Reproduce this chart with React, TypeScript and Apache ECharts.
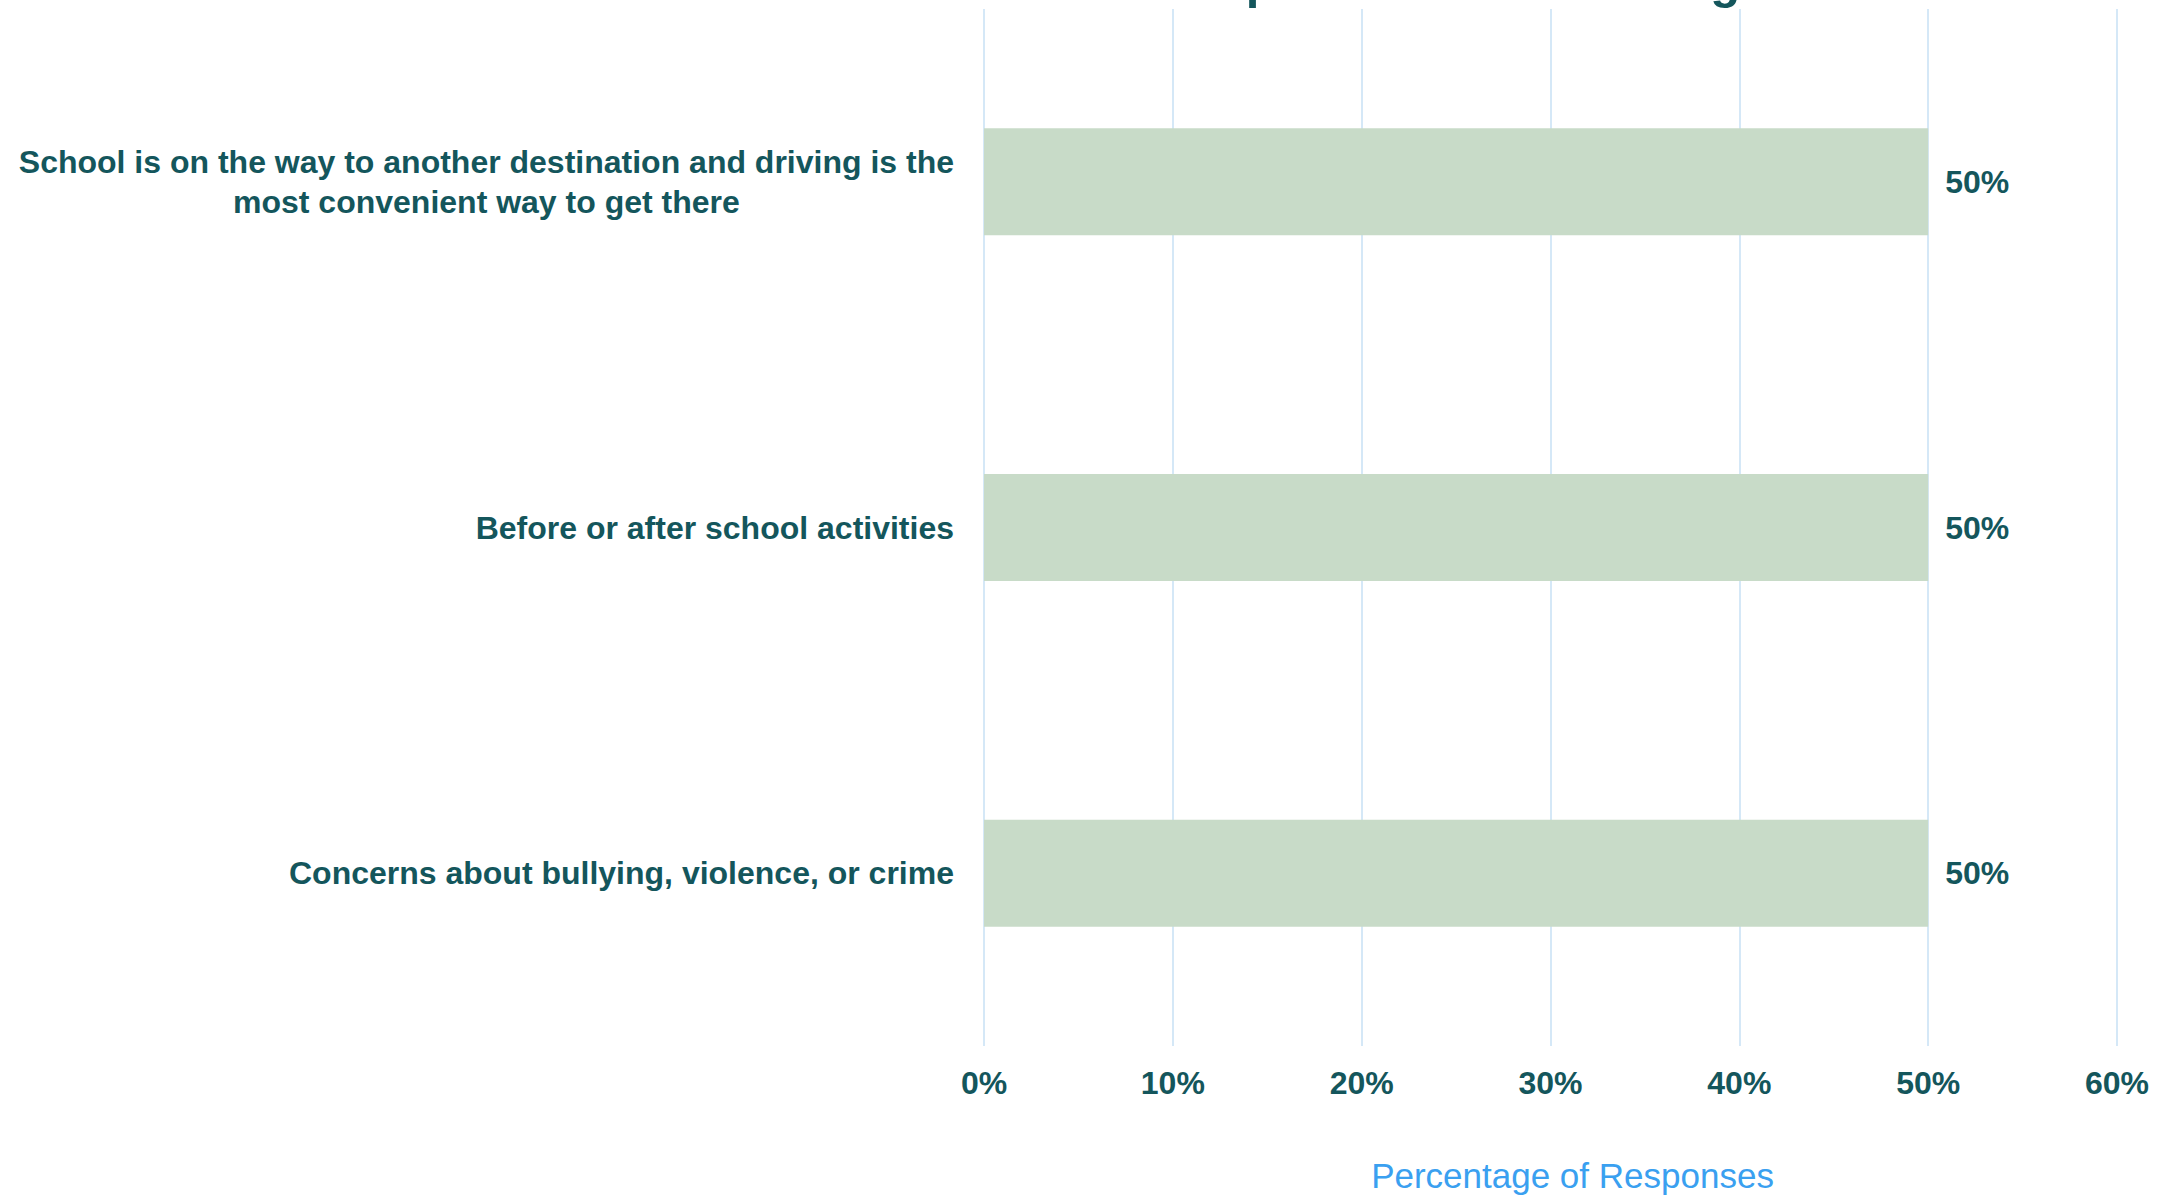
import React, { useEffect, useRef } from "react";
import * as echarts from "echarts";

const titleText = "Issues and Reasons Reported for Not Taking the Bus";
const categories = [
  "School is on the way to another destination and driving is the\nmost convenient way to get there",
  "Before or after school activities",
  "Concerns about bullying, violence, or crime",
];
const values = [50, 50, 50];
const xAxisName = "Percentage of Responses";

const TEAL = "#14565c";
const FONT = "'Liberation Sans', Arial, Helvetica, sans-serif";

export default function App() {
  const ref = useRef<HTMLDivElement>(null);
  useEffect(() => {
    document.body.style.margin = "0";
    const chart = echarts.init(ref.current!, null, { renderer: "svg" });
    chart.setOption({
      animation: false,
      backgroundColor: "#ffffff",
      title: {
        text: titleText,
        left: 1316,
        textAlign: "center",
        top: -44,
        padding: 0,
        textStyle: { fontFamily: FONT, fontSize: 49, fontWeight: "bold", color: TEAL },
      },
      grid: { left: 984, right: 41, top: 9, bottom: 150, containLabel: false },
      xAxis: {
        type: "value",
        min: 0,
        max: 60,
        interval: 10,
        axisLine: { show: false },
        axisTick: { show: false },
        splitLine: { show: true, lineStyle: { color: "#d5e8f7", width: 2 } },
        axisLabel: {
          formatter: "{value}%",
          margin: 21,
          fontFamily: FONT,
          fontSize: 32,
          fontWeight: "bold",
          color: TEAL,
        },
        name: xAxisName,
        nameLocation: "middle",
        nameGap: 112,
        nameTextStyle: {
          fontFamily: FONT,
          fontSize: 35,
          color: "#3aa0f0",
          padding: [0, 0, 0, 44],
        },
      },
      yAxis: {
        type: "category",
        inverse: true,
        data: categories,
        axisLine: { show: false },
        axisTick: { show: false },
        splitLine: { show: false },
        axisLabel: {
          margin: 30,
          formatter: (v: string) =>
            v
              .split("\n")
              .map((l) => `{c|${l}}`)
              .join("\n"),
          rich: {
            c: {
              align: "center",
              fontFamily: FONT,
              fontSize: 32,
              fontWeight: "bold",
              color: TEAL,
              lineHeight: 40,
            },
          },
        },
      },
      series: [
        {
          type: "bar",
          data: values,
          barWidth: 107,
          itemStyle: { color: "#c8dbc8" },
          label: {
            show: true,
            position: "right",
            distance: 17,
            formatter: "{c}%",
            fontFamily: FONT,
            fontSize: 32,
            fontWeight: "bold",
            color: TEAL,
          },
        },
      ],
    });
    return () => chart.dispose();
  }, []);
  return <div ref={ref} style={{ width: 2158, height: 1198 }} />;
}
